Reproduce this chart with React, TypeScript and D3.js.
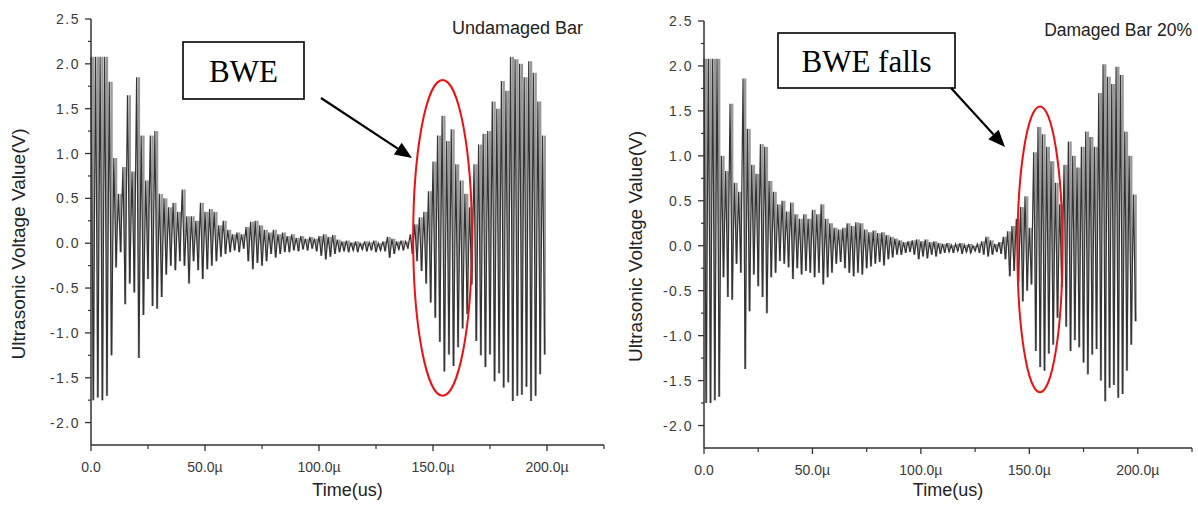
import React from "react";
import * as d3 from "d3";

// ---- data ----
const timeTicks = [0, 50, 100, 150, 200];
const timeTickLabels = ["0.0", "50.0\u00b5", "100.0\u00b5", "150.0\u00b5", "200.0\u00b5"];
const timeMinorTicks = [25, 75, 125, 175, 225];
const voltTicks = [-2.0, -1.5, -1.0, -0.5, 0.0, 0.5, 1.0, 1.5, 2.0, 2.5];
const voltMinorTicks = [-1.75, -1.25, -0.75, -0.25, 0.25, 0.75, 1.25, 1.75, 2.25];
const binWidth = 2; // µs per oscillation (peak then trough)

// Undamaged bar: positive peak / negative trough for each 2 µs cycle (0..200 µs)
const undamagedUpper = [
  2.08, 2.08, 2.08, 2.08, 1.8, 0.95, 0.55, 0.85, 1.65, 0.8,
  1.85, 1.2, 0.7, 1.2, 1.25, 0.55, 0.5, 0.4, 0.45, 0.35,
  0.6, 0.3, 0.3, 0.25, 0.45, 0.35, 0.38, 0.35, 0.2, 0.25,
  0.15, 0.1, 0.12, 0.1, 0.18, 0.24, 0.25, 0.2, 0.15, 0.12,
  0.15, 0.1, 0.12, 0.08, 0.1, 0.06, 0.08, 0.05, 0.07, 0.05,
  0.08, 0.1, 0.07, 0.09, 0.04, 0.02, 0.03, 0.01, 0.02, 0.0,
  0.02, 0.01, 0.03, 0.0, 0.02, 0.07, 0.05, 0.02, 0.03, 0.02,
  0.1, 0.21, 0.29, 0.35, 0.58, 0.91, 1.2, 1.42, 1.14, 1.27,
  0.88, 0.7, 0.55, 0.4, 0.88, 1.1, 1.22, 1.25, 1.58, 1.5,
  1.81, 1.7, 2.08, 2.05, 2.0, 1.85, 2.03, 1.9, 1.58, 1.2,
];
const undamagedLower = [
  -1.75, -1.72, -1.75, -1.7, -1.25, -0.27, -0.1, -0.68, -0.45, -0.55,
  -1.28, -0.8, -0.4, -0.7, -0.73, -0.6, -0.35, -0.25, -0.3, -0.2,
  -0.25, -0.45, -0.2, -0.3, -0.4, -0.29, -0.25, -0.2, -0.15, -0.12,
  -0.1, -0.08, -0.1, -0.06, -0.2, -0.29, -0.22, -0.25, -0.2, -0.12,
  -0.16, -0.12, -0.1, -0.1, -0.08, -0.09, -0.07, -0.08, -0.06, -0.09,
  -0.14, -0.18, -0.15, -0.12, -0.1, -0.09, -0.1, -0.08, -0.1, -0.07,
  -0.09, -0.08, -0.1, -0.08, -0.09, -0.16, -0.12, -0.07, -0.08, -0.06,
  -0.12, -0.2, -0.31, -0.45, -0.66, -0.83, -1.1, -1.43, -1.24, -1.37,
  -1.16, -0.95, -0.79, -0.46, -1.09, -1.25, -1.38, -1.24, -1.54, -1.45,
  -1.61, -1.55, -1.76, -1.7, -1.69, -1.6, -1.76, -1.7, -1.46, -1.24,
];

// Damaged bar (20%)
const damagedUpper = [
  2.08, 2.08, 2.08, 2.08, 1.0, 0.83, 1.58, 0.7, 0.6, 1.86,
  1.3, 0.9, 0.8, 1.13, 1.1, 0.72, 0.6, 0.46, 0.5, 0.38,
  0.48, 0.35, 0.3, 0.35, 0.3, 0.4, 0.35, 0.46, 0.3, 0.25,
  0.2, 0.18, 0.2, 0.25, 0.22, 0.26, 0.25, 0.18, 0.15, 0.17,
  0.14, 0.15, 0.12, 0.1, 0.08, 0.06, 0.04, 0.05, 0.06, 0.07,
  0.05, 0.07, 0.04, 0.05, 0.03, 0.02, 0.03, 0.01, 0.02, 0.03,
  0.01, 0.02, 0.0, 0.02, 0.05, 0.1, 0.06, 0.02, 0.04, 0.1,
  0.16, 0.22, 0.3, 0.43, 0.55, 0.2, 1.04, 1.32, 1.24, 1.1,
  0.94, 0.7, 0.46, 0.9, 1.16, 1.0, 0.87, 1.1, 1.27, 1.21,
  1.1, 1.7, 2.02, 1.88, 1.8, 1.99, 1.9, 1.27, 1.0, 0.57,
];
const damagedLower = [
  -1.75, -1.75, -1.72, -1.68, -0.35, -0.57, -0.6, -0.2, -0.3, -1.37,
  -0.73, -0.32, -0.45, -0.57, -0.75, -0.35, -0.3, -0.17, -0.2, -0.24,
  -0.37, -0.25, -0.32, -0.28, -0.3, -0.35, -0.3, -0.43, -0.35, -0.3,
  -0.2, -0.18, -0.25, -0.3, -0.34, -0.3, -0.32, -0.25, -0.23, -0.2,
  -0.18, -0.22, -0.15, -0.13, -0.1, -0.1, -0.08, -0.07, -0.1, -0.15,
  -0.12, -0.14, -0.1, -0.12, -0.09, -0.08, -0.07, -0.08, -0.06, -0.09,
  -0.07, -0.08, -0.06, -0.08, -0.1, -0.12, -0.1, -0.07, -0.09, -0.15,
  -0.34, -0.28, -0.4, -0.62, -0.5, -0.43, -1.17, -1.35, -1.39, -1.2,
  -1.1, -0.8, -0.46, -0.9, -1.17, -1.05, -1.13, -1.3, -1.43, -1.21,
  -1.15, -1.5, -1.73, -1.58, -1.55, -1.69, -1.65, -1.39, -1.1, -0.84,
];

type Pt = { t: number; v: number };

function toPoints(upper: number[], lower: number[]): Pt[] {
  const pts: Pt[] = [];
  upper.forEach((u, i) => {
    pts.push({ t: i * binWidth, v: u });
    pts.push({ t: i * binWidth + binWidth / 2, v: lower[i] });
  });
  return pts;
}

type PanelProps = {
  left: number;
  right: number;
  top: number;
  bottom: number;
  upper: number[];
  lower: number[];
  title: string;
  titleX: number;
  titleY: number;
  titleSize: number;
  yLabelX: number;
  box: { x: number; y: number; w: number; h: number; text: string };
  arrow: { x1: number; y1: number; x2: number; y2: number };
  ellipse: { t: number; v: number; dt: number; dv: number };
};

const sans = "'Liberation Sans', Arial, Helvetica, sans-serif";
const serif = "'Liberation Serif', 'Times New Roman', serif";
const axisColor = "#333";

function Panel(p: PanelProps) {
  const x = d3.scaleLinear().domain([0, 225]).range([p.left, p.right]);
  const y = d3.scaleLinear().domain([-2.25, 2.5]).range([p.bottom, p.top]);
  const line = d3
    .line<Pt>()
    .x((d) => x(d.t))
    .y((d) => y(d.v));
  const pts = toPoints(p.upper, p.lower);

  // arrow head
  const ang = Math.atan2(p.arrow.y2 - p.arrow.y1, p.arrow.x2 - p.arrow.x1);
  const hl = 17;
  const hw = 7;
  const bx = p.arrow.x2 - hl * Math.cos(ang);
  const by = p.arrow.y2 - hl * Math.sin(ang);
  const head = [
    [p.arrow.x2, p.arrow.y2],
    [bx + hw * Math.sin(ang), by - hw * Math.cos(ang)],
    [bx - hw * Math.sin(ang), by + hw * Math.cos(ang)],
  ];

  const ex = x(p.ellipse.t);
  const ey = y(p.ellipse.v);
  const erx = x(p.ellipse.dt) - x(0);
  const ery = y(0) - y(p.ellipse.dv);

  return (
    <g>
      {/* waveform: grey high-low bar per cycle, then the trace on top */}
      {p.upper.map((u, i) => (
        <line
          key={"b" + i}
          x1={x(i * binWidth + binWidth / 2)}
          x2={x(i * binWidth + binWidth / 2)}
          y1={y(u)}
          y2={y(p.lower[i])}
          stroke="#999"
          strokeWidth={2.4}
        />
      ))}
      <path d={line(pts) || ""} fill="none" stroke="#333" strokeWidth={1.2} strokeLinejoin="miter" />

      {/* y axis */}
      <line x1={p.left} x2={p.left} y1={p.top} y2={p.bottom} stroke={axisColor} strokeWidth={1.5} />
      {voltTicks.map((v) => (
        <g key={"yt" + v}>
          <line x1={p.left - 6} x2={p.left} y1={y(v)} y2={y(v)} stroke={axisColor} strokeWidth={1.3} />
          <text
            x={p.left - 11}
            y={y(v)}
            dy="0.36em"
            textAnchor="end"
            fontFamily={sans}
            fontSize={14}
            fill="#3a3a3a"
            letterSpacing={1.5}
          >
            {v.toFixed(1)}
          </text>
        </g>
      ))}
      {voltMinorTicks.map((v) => (
        <line key={"ym" + v} x1={p.left - 3} x2={p.left} y1={y(v)} y2={y(v)} stroke={axisColor} strokeWidth={1.2} />
      ))}

      {/* x axis */}
      <line x1={p.left} x2={p.right} y1={p.bottom} y2={p.bottom} stroke={axisColor} strokeWidth={1.5} />
      {timeTicks.map((t, i) => (
        <g key={"xt" + t}>
          <line x1={x(t)} x2={x(t)} y1={p.bottom} y2={p.bottom + 6} stroke={axisColor} strokeWidth={1.3} />
          <text x={x(t)} y={p.bottom + 27} textAnchor="middle" fontFamily={sans} fontSize={14} fill="#3a3a3a">
            {timeTickLabels[i]}
          </text>
        </g>
      ))}
      {timeMinorTicks.map((t) => (
        <line key={"xm" + t} x1={x(t)} x2={x(t)} y1={p.bottom} y2={p.bottom + 4} stroke={axisColor} strokeWidth={1.2} />
      ))}

      {/* axis titles */}
      <text
        transform={`translate(${p.yLabelX},${(p.top + p.bottom) / 2 + 12}) rotate(-90)`}
        textAnchor="middle"
        fontFamily={sans}
        fontSize={19}
        fill="#222"
      >
        Ultrasonic Voltage Value(V)
      </text>
      <text x={(p.left + p.right) / 2 + 0} y={496} textAnchor="middle" fontFamily={sans} fontSize={18} fill="#222">
        Time(us)
      </text>

      {/* panel title */}
      <text x={p.titleX} y={p.titleY} textAnchor="end" fontFamily={sans} fontSize={p.titleSize} fill="#222">
        {p.title}
      </text>

      {/* red ellipse */}
      <ellipse cx={ex} cy={ey} rx={erx} ry={ery} fill="none" stroke="#ee1111" strokeWidth={2} />

      {/* annotation box */}
      <rect x={p.box.x} y={p.box.y} width={p.box.w} height={p.box.h} fill="#fff" stroke="#000" strokeWidth={1.6} />
      <text
        x={p.box.x + p.box.w / 2}
        y={p.box.y + p.box.h / 2 + 11}
        textAnchor="middle"
        fontFamily={serif}
        fontSize={31}
        fill="#000"
      >
        {p.box.text}
      </text>

      {/* arrow */}
      <line x1={p.arrow.x1} y1={p.arrow.y1} x2={bx} y2={by} stroke="#000" strokeWidth={2.2} />
      <polygon points={head.map((d) => d.join(",")).join(" ")} fill="#000" />
    </g>
  );
}

export default function App() {
  return (
    <svg
      width={1198}
      height={512}
      viewBox="0 0 1198 512"
      style={{ position: "absolute", left: 0, top: 0, background: "#fff" }}
    >
      <rect x={0} y={0} width={1198} height={512} fill="#fff" />
      <Panel
        left={91}
        right={604}
        top={19}
        bottom={445}
        upper={undamagedUpper}
        lower={undamagedLower}
        title="Undamaged Bar"
        titleX={583}
        titleY={34}
        titleSize={18}
        yLabelX={25}
        box={{ x: 183, y: 42, w: 121, h: 57, text: "BWE" }}
        arrow={{ x1: 321, y1: 98, x2: 412, y2: 158 }}
        ellipse={{ t: 154.2, v: 0.06, dt: 12.9, dv: 1.76 }}
      />
      <Panel
        left={704}
        right={1192}
        top={21}
        bottom={448}
        upper={damagedUpper}
        lower={damagedLower}
        title="Damaged Bar 20%"
        titleX={1192}
        titleY={36}
        titleSize={17.5}
        yLabelX={642}
        box={{ x: 778, y: 33, w: 177, h: 55, text: "BWE falls" }}
        arrow={{ x1: 951, y1: 88, x2: 1005, y2: 147 }}
        ellipse={{ t: 154.9, v: -0.04, dt: 10.4, dv: 1.59 }}
      />
    </svg>
  );
}
